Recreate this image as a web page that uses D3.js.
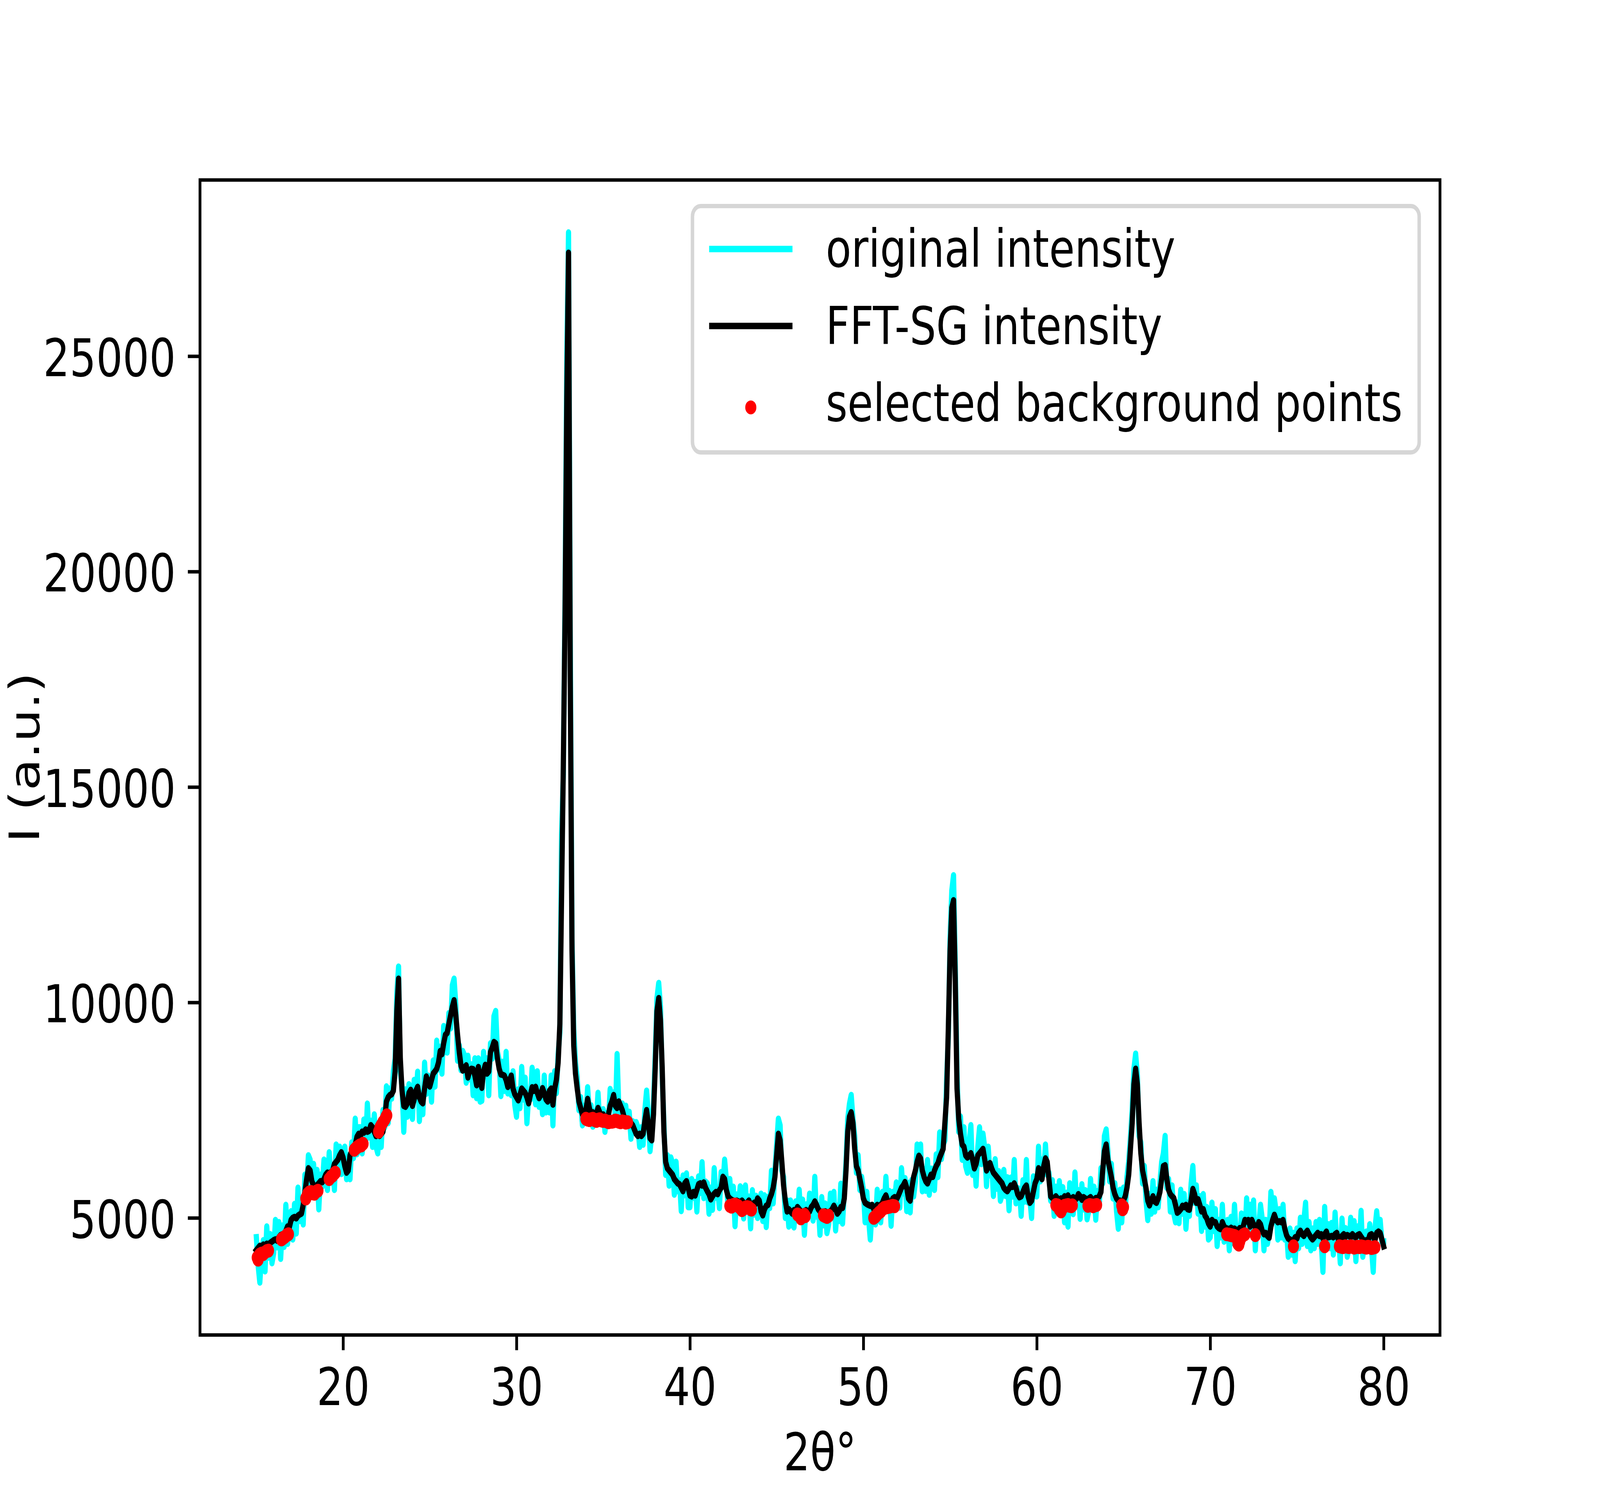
<!DOCTYPE html>
<html>
<head>
<meta charset="utf-8">
<title>XRD background selection</title>
<script src="https://d3js.org/d3.v7.min.js"></script>
<style>
  html, body { margin: 0; padding: 0; background: #ffffff; overflow: hidden; }
  svg { display: block; width: 100vw; height: 100vh; }
  svg text { font-family: "DejaVu Sans", sans-serif; fill: #000; }
</style>
</head>
<body>
<script>
// 2theta grid of the scan: 15.0 .. 80.0 deg, 0.1 deg step
const angleStart = 15.0;
const angleStep = 0.1;

// raw counts, one row per degree (N.0 .. N.9)
const originalIntensity = [
  4550,3900,3500,4130,4480,3760,4800,4080,4620,3950,   // 15
  4180,4950,4320,4900,4050,4820,4330,5300,4400,4930,   // 16
  5150,4500,5320,4640,5700,4930,5200,4850,6000,5650,   // 17
  6450,6350,5550,6250,5520,6110,5200,6000,5730,6350,   // 18
  6300,5650,6520,5860,6200,5650,6700,6050,6650,6020,   // 19
  6100,6650,5900,6450,5900,6750,6390,7300,6480,7100,   // 20
  7100,6500,7280,6700,7650,6870,7250,6650,7400,6650,   // 21
  6500,7150,6650,7500,7100,8050,7200,8000,7770,8400,   // 22
  8700,10200,10830,8400,8050,7000,7980,7350,8100,7470, // 23
  7300,8200,7800,8390,7250,7900,7410,8600,7880,8300,   // 24
  8250,7700,8650,8050,9110,8450,8970,8350,9450,9000,   // 25
  8840,9750,9400,10400,10550,9950,8650,9000,8430,8870, // 26
  8780,8140,8760,8220,8560,7850,8700,7780,8700,7700,   // 27
  7720,8850,8400,8700,7850,9050,8700,9680,9800,8850,   // 28
  8660,7830,8620,7950,8850,7890,8300,7850,8400,7620,   // 29
  7350,7980,7550,8500,7750,8250,7200,7810,7750,8480,   // 30
  8250,7640,8400,7580,7950,7410,8300,7450,7900,7450,   // 31
  8300,7150,8400,7900,8800,9300,13900,15300,19500,25000, // 32
  27870,18500,11500,9400,8600,8250,7500,7800,7150,7600,  // 33
  7320,8030,7460,7610,7120,7470,7250,7900,7210,7440,   // 34
  7520,7000,7430,7190,7990,7610,7910,7330,8800,7550,   // 35
  7330,7650,7170,7600,7130,7460,6840,7240,6990,7220,   // 36
  7100,6650,7100,6700,7500,7950,7400,6550,6950,7650,   // 37
  8800,10100,10450,9900,8300,7200,6000,6450,5750,6400, // 38
  6270,5540,6300,5620,5870,5160,5980,5530,6030,5250,   // 39
  5250,5900,5470,5830,5150,5960,5580,6290,5460,5840,   // 40
  5800,5100,5700,5190,6150,5470,5640,5230,6060,5730,   // 41
  6350,5880,5230,5900,5240,5720,4810,5540,5290,5730,   // 42
  5670,4990,5750,5170,5490,4760,5640,5080,5510,5000,   // 43
  5130,5560,4930,5520,4790,5480,5230,6090,5340,6090,   // 44
  6700,7300,7150,6100,5950,5000,5400,4800,5400,4850,   // 45
  4780,5380,4980,5650,4970,5420,4610,5310,5030,5560,   // 46
  5520,4940,5950,5030,5290,4610,5480,4830,5330,4650,   // 47
  4850,5560,5070,5600,4710,5280,4930,5790,4870,5580,   // 48
  6300,7300,7650,7850,7300,6900,6050,6450,5650,5950,   // 49
  5650,4900,5600,4980,4500,5160,5290,4850,5650,5050,   // 50
  4900,5600,5180,5950,5220,5620,4820,5600,5390,5820,   // 51
  5770,5240,6150,5570,5920,5160,5810,5130,5880,5500,   // 52
  5830,6700,6300,6700,5620,6130,5630,6340,5540,6140,   // 53
  6130,5650,6470,5950,6980,6370,6700,6800,8200,9200,   // 54
  11500,12600,12950,10900,8400,7000,7350,6350,7100,6200, // 55
  6050,6750,7150,6000,6400,5750,6650,7100,6250,6950,   // 56
  6620,5740,6650,5990,6240,5510,6360,5680,6080,5400,   // 57
  5530,6110,5510,5940,5180,5930,5500,6340,5340,5690,   // 58
  5660,5050,5870,5380,6340,5360,5440,5000,5960,5570,   // 59
  5500,6650,5850,6350,6050,6700,6000,6050,5400,5870,   // 60
  5050,5720,5180,5850,5270,5710,4900,5580,4800,5800,   // 61
  5720,5090,6050,5270,5640,4980,5780,5200,5640,4970,   // 62
  5170,5900,5280,5720,4960,5620,5260,6150,5800,6900,   // 63
  7050,6550,5850,6250,5450,5800,5150,4750,5650,4900,   // 64
  5700,5150,5950,6300,6850,7500,8450,8810,8300,6900,   // 65
  6750,5800,6200,5400,4950,5550,5100,5850,5150,5650,   // 66
  5250,5800,6300,6500,6900,5700,5900,5150,5750,5100,   // 67
  4900,5350,4880,5650,5100,5550,4750,5350,5050,5800,   // 68
  6200,5350,5750,5100,5500,4700,5550,4800,5250,4500,   // 69
  4550,5350,4700,5200,4350,4950,4550,5300,4450,4900,   // 70
  4950,4250,5020,4420,5300,4600,4800,4350,5100,4570,   // 71
  4550,5450,4700,5300,4780,5400,4250,4900,4820,5300,   // 72
  4980,4250,4950,4400,4650,5600,5200,5450,5150,4500,   // 73
  5200,4550,5300,4500,4700,4100,4750,4150,4650,4000,   // 74
  4750,4300,5000,4400,4950,5350,4350,4900,4250,4750,   // 75
  4300,4900,4400,4950,4450,3750,5250,4400,4850,4300,   // 76
  4880,4150,5120,4450,4570,3950,4980,4320,4760,4100,   // 77
  4280,5000,4470,4920,4000,4800,4370,5160,4100,4600,   // 78
  4680,4260,4850,4300,3750,4750,5150,4700,4950,4450,   // 79
  4450                                                 // 80
];

// FFT + Savitzky-Golay smoothed counts on the same grid
const fftIntensity = [
  4250,4300,4350,4330,4380,4360,4400,4380,4420,4450,   // 15
  4480,4500,4470,4550,4600,4620,4580,4700,4800,4780,   // 16
  4950,5000,5020,4990,5050,5080,5100,5300,5600,5900,   // 17
  6150,6100,5850,5750,5720,5760,5800,5850,5830,5900,   // 18
  6000,6050,6020,6060,6100,6250,6300,6350,6450,6520,   // 19
  6400,6200,6050,6100,6450,6550,6640,6700,6880,6950,   // 20
  6900,7000,6980,7050,7000,7020,7150,7100,7000,6900,   // 21
  6950,6900,6950,7000,7300,7700,7800,7850,7870,7950,   // 22
  8400,9800,10550,8700,7950,7600,7580,7650,7900,7970,  // 23
  7600,7750,7950,8040,7800,7700,7660,8000,8280,8150,   // 24
  8050,8200,8350,8400,8460,8600,8870,8800,9050,9250,   // 25
  9290,9500,9700,9900,10050,9700,9250,8850,8530,8420,  // 26
  8480,8540,8260,8420,8460,8450,8300,8080,8500,8200,   // 27
  8020,8400,8550,8350,8400,8850,8950,9080,9050,8700,   // 28
  8460,8330,8320,8300,8200,8040,8200,8300,8000,7870,   // 29
  7800,7730,7850,8000,7950,7900,7800,7660,7850,8030,   // 30
  7950,8040,7900,7780,7850,8010,7900,7750,7700,7950,   // 31
  8000,7630,8000,8200,8600,9500,12500,15500,19000,24000, // 32
  27400,17500,11200,9000,8350,8000,7700,7550,7400,7380,  // 33
  7500,7760,7550,7400,7450,7350,7400,7550,7450,7350,   // 34
  7400,7300,7250,7400,7600,7700,7850,7600,7550,7700,   // 35
  7600,7500,7350,7300,7250,7250,7200,7150,7050,6950,   // 36
  6900,6950,6900,6950,7250,7500,7200,6850,6800,7400,   // 37
  8500,9800,10100,9600,8500,7000,6300,6150,6100,6050,  // 38
  6000,5900,5850,5800,5780,5700,5620,5800,5850,5700,   // 39
  5520,5500,5600,5520,5650,5780,5800,5750,5820,5700,   // 40
  5620,5550,5430,5500,5560,5600,5550,5640,5700,5950,   // 41
  5900,5650,5500,5450,5420,5400,5350,5400,5380,5330,   // 42
  5400,5350,5300,5350,5400,5300,5280,5350,5330,5450,   // 43
  5400,5150,5060,5200,5280,5300,5450,5550,5700,5950,   // 44
  6450,6950,6800,6300,5750,5400,5150,5200,5150,5100,   // 45
  5180,5150,5250,5200,5150,5100,5150,5180,5120,5150,   // 46
  5250,5300,5380,5300,5200,5150,5120,5100,5150,5100,   // 47
  5120,5150,5200,5280,5200,5100,5150,5250,5230,5450,   // 48
  6100,7000,7350,7450,7200,6600,6200,6100,5900,5700,   // 49
  5450,5350,5320,5300,5280,5300,5200,5250,5300,5280,   // 50
  5300,5350,5450,5520,5400,5300,5350,5450,5480,5420,   // 51
  5500,5600,5700,5750,5830,5700,5450,5400,5700,5950,   // 52
  6100,6300,6440,6380,6100,5950,5850,5800,5900,6000,   // 53
  5950,6100,6200,6270,6400,6500,6600,7200,7800,9400,   // 54
  11200,12200,12370,10500,8000,7300,6950,6700,6650,6450, // 55
  6400,6450,6500,6350,6150,6250,6450,6500,6550,6600,   // 56
  6350,6100,6200,6270,6150,6050,6000,5950,5900,5850,   // 57
  5800,5700,5650,5620,5680,5750,5720,5800,5700,5550,   // 58
  5480,5500,5600,5700,5750,5500,5350,5400,5600,5800,   // 59
  5900,6150,6100,5900,6200,6380,6300,5900,5500,5460,   // 60
  5450,5500,5450,5400,5450,5400,5500,5450,5520,5420,   // 61
  5450,5480,5420,5450,5550,5500,5420,5480,5450,5400,   // 62
  5450,5480,5420,5400,5460,5450,5500,5600,6100,6550,   // 63
  6700,6350,6150,5950,5700,5550,5450,5400,5400,5380,   // 64
  5400,5500,5700,6000,6600,7200,8100,8460,8100,7200,   // 65
  6500,6100,5900,5690,5400,5290,5400,5500,5380,5350,   // 66
  5450,5600,5900,6200,6220,5900,5650,5550,5500,5460,   // 67
  5300,5120,5150,5200,5280,5250,5300,5200,5190,5400,   // 68
  5670,5550,5350,5430,5300,5150,5200,5050,4990,4870,   // 69
  4800,4950,4900,4900,4800,4760,4740,4900,4800,4760,   // 70
  4750,4700,4770,4740,4750,4720,4700,4760,4750,4800,   // 71
  4950,4920,4950,4800,4950,4850,4780,4750,4900,4850,   // 72
  4700,4620,4650,4580,4540,4800,4950,5070,4950,4900,   // 73
  4920,4900,4950,4750,4600,4520,4500,4420,4480,4550,   // 74
  4520,4650,4700,4620,4580,4650,4700,4620,4550,4500,   // 75
  4550,4600,4650,4580,4620,4520,4620,4680,4550,4560,   // 76
  4580,4550,4620,4650,4470,4420,4580,4620,4560,4600,   // 77
  4580,4550,4620,4570,4550,4600,4620,4560,4500,4450,   // 78
  4480,4460,4600,4620,4570,4480,4650,4680,4650,4500,   // 79
  4340                                                 // 80
];

// selected background points [2theta, intensity]
const backgroundPoints = [
  [15.05,4080],[15.1,4030],[15.15,4120],[15.2,4150],[15.3,4170],[15.4,4160],[15.5,4200],[15.6,4230],[15.7,4240],
  [16.45,4500],[16.55,4530],[16.65,4560],[16.75,4600],[16.85,4620],
  [17.85,5450],[17.95,5550],[18.05,5590],[18.15,5600],[18.25,5570],[18.35,5560],[18.45,5610],[18.55,5630],
  [19.2,5900],[19.3,5950],[19.4,5980],[19.5,6030],[19.55,6050],
  [20.65,6580],[20.75,6620],[20.85,6650],[20.95,6680],[21.05,6680],[21.15,6720],
  [22.05,7000],[22.13,7100],[22.2,7150],[22.3,7220],[22.4,7280],[22.47,7340],[22.52,7380],
  [34.0,7300],[34.1,7280],[34.2,7270],[34.3,7290],[34.4,7300],[34.5,7270],[34.6,7250],[34.7,7280],
  [34.8,7290],[34.9,7260],[35.0,7250],[35.1,7260],[35.2,7240],[35.3,7220],[35.4,7230],[35.5,7230],
  [35.6,7240],[35.7,7260],[35.8,7250],[35.9,7230],[36.0,7220],[36.1,7240],[36.2,7230],[36.3,7210],[36.4,7220],
  [42.3,5280],[42.4,5260],[42.5,5300],[42.6,5310],[42.7,5290],[42.8,5270],[42.9,5230],[43.0,5180],
  [43.1,5210],[43.2,5240],[43.3,5250],[43.4,5240],[43.5,5200],[43.55,5190],
  [46.2,5080],[46.3,5060],[46.4,4990],[46.5,5030],[46.6,5070],[46.65,5040],
  [47.7,5060],[47.8,5040],[47.9,5020],[48.0,5050],
  [50.6,5000],[50.7,5030],[50.8,5080],[50.9,5120],[51.0,5150],[51.1,5200],[51.2,5230],
  [51.3,5240],[51.4,5250],[51.5,5260],[51.6,5270],[51.7,5280],[51.8,5270],
  [61.1,5300],[61.2,5290],[61.3,5200],[61.4,5150],[61.5,5230],[61.6,5280],[61.7,5290],
  [61.8,5300],[61.9,5280],[62.0,5270],[62.05,5290],
  [62.95,5280],[63.05,5300],[63.15,5290],[63.25,5270],[63.35,5290],[63.45,5300],
  [64.9,5290],[64.95,5200],[65.0,5250],
  [70.95,4620],[71.1,4610],[71.2,4600],[71.3,4590],[71.4,4580],[71.5,4560],[71.6,4400],
  [71.65,4380],[71.7,4450],[71.8,4550],[71.9,4600],[72.0,4620],
  [72.6,4600],[74.8,4340],[76.6,4340],
  [77.45,4340],[77.55,4330],[77.65,4320],[77.8,4340],[77.9,4330],[78.0,4320],[78.1,4340],
  [78.2,4330],[78.3,4310],[78.4,4320],[78.5,4330],[78.6,4320],[78.7,4340],[78.8,4330],
  [78.9,4320],[79.0,4310],[79.1,4330],[79.2,4320],[79.3,4300],[79.4,4310],[79.5,4320]
];

const xTicks = [20, 30, 40, 50, 60, 70, 80];
const yTicks = [5000, 10000, 15000, 20000, 25000];
const legendLabels = ["original intensity", "FFT-SG intensity", "selected background points"];
const xLabel = "2θ°";
const yLabel = "I (a.u.)";

// ---- layout (matplotlib defaults, 6.4x4.8 in at 800 dpi) ----
const W = 5120, H = 3840;
const pt = 800 / 72;
const fs = 12 * pt;
const margin = { left: 0.125 * W, right: 0.1 * W, top: 0.12 * H, bottom: 0.11 * H };
const colOriginal = "#00ffff", colFft = "#000000", colBg = "#ff0000";
const lineW = 1.5 * pt, axisW = 0.8 * pt, tickLen = 3.5 * pt;
const dotR = 1.6 * pt;

const twoTheta = originalIntensity.map((d, i) => +(angleStart + i * angleStep).toFixed(2));
const n = Math.min(twoTheta.length, originalIntensity.length, fftIntensity.length);

const xLo = d3.min(twoTheta), xHi = d3.max(twoTheta);
const allI = originalIntensity.concat(fftIntensity, backgroundPoints.map(d => d[1]));
const yLo = d3.min(allI), yHi = d3.max(allI);

const x = d3.scaleLinear()
  .domain([xLo - 0.05 * (xHi - xLo), xHi + 0.05 * (xHi - xLo)])
  .range([margin.left, W - margin.right]);
const y = d3.scaleLinear()
  .domain([yLo - 0.05 * (yHi - yLo), yHi + 0.05 * (yHi - yLo)])
  .range([H - margin.bottom, margin.top]);

// laid out in a 5120x3840 user space, stretched over the whole window
const svg = d3.select("body").append("svg")
  .attr("viewBox", `0 0 ${W} ${H}`)
  .attr("preserveAspectRatio", "none");

svg.append("rect").attr("width", W).attr("height", H).attr("fill", "#fff");

svg.append("clipPath").attr("id", "plotArea")
  .append("rect")
  .attr("x", margin.left).attr("y", margin.top)
  .attr("width", W - margin.left - margin.right)
  .attr("height", H - margin.top - margin.bottom);

const plot = svg.append("g").attr("clip-path", "url(#plotArea)");

const idx = d3.range(n);
const lineOf = series => d3.line()
  .x(i => x(twoTheta[i]))
  .y(i => y(series[i]));

plot.append("path")
  .attr("d", lineOf(originalIntensity)(idx))
  .attr("fill", "none")
  .attr("stroke", colOriginal)
  .attr("stroke-width", lineW)
  .attr("stroke-linejoin", "round")
  .attr("stroke-linecap", "square");

plot.append("path")
  .attr("d", lineOf(fftIntensity)(idx))
  .attr("fill", "none")
  .attr("stroke", colFft)
  .attr("stroke-width", lineW)
  .attr("stroke-linejoin", "round")
  .attr("stroke-linecap", "square");

plot.selectAll("circle.bg")
  .data(backgroundPoints)
  .join("circle")
  .attr("class", "bg")
  .attr("cx", d => x(d[0]))
  .attr("cy", d => y(d[1]))
  .attr("r", dotR)
  .attr("fill", colBg);

// ---- axes ----
const gx = svg.append("g")
  .attr("transform", `translate(0,${H - margin.bottom})`)
  .call(d3.axisBottom(x).tickValues(xTicks).tickFormat(d3.format("d"))
    .tickSize(tickLen).tickPadding(tickLen).tickSizeOuter(0));
gx.attr("font-size", fs).attr("font-family", "DejaVu Sans");
gx.select(".domain").remove();
gx.selectAll(".tick line").attr("stroke", "#000").attr("stroke-width", axisW);
gx.selectAll(".tick text").attr("fill", "#000").attr("dy", "0.76em");

const gy = svg.append("g")
  .attr("transform", `translate(${margin.left},0)`)
  .call(d3.axisLeft(y).tickValues(yTicks).tickFormat(d3.format("d"))
    .tickSize(tickLen).tickPadding(tickLen).tickSizeOuter(0));
gy.attr("font-size", fs).attr("font-family", "DejaVu Sans");
gy.select(".domain").remove();
gy.selectAll(".tick line").attr("stroke", "#000").attr("stroke-width", axisW);
gy.selectAll(".tick text").attr("fill", "#000").attr("dy", "0.38em");

svg.append("rect")
  .attr("x", margin.left).attr("y", margin.top)
  .attr("width", W - margin.left - margin.right)
  .attr("height", H - margin.top - margin.bottom)
  .attr("fill", "none")
  .attr("stroke", "#000")
  .attr("stroke-width", axisW)
  .attr("stroke-linejoin", "miter");

svg.append("text")
  .attr("x", (margin.left + W - margin.right) / 2)
  .attr("y", H - margin.bottom + 2.6 * fs)
  .attr("text-anchor", "middle")
  .attr("font-size", fs)
  .text(xLabel);

// y label sits against the left edge, kept just inside the page
svg.append("text")
  .attr("transform", `translate(${0.94 * fs},${(margin.top + H - margin.bottom) / 2}) rotate(-90)`)
  .attr("text-anchor", "middle")
  .attr("font-size", fs)
  .text(yLabel);

// ---- legend ----
const borderAxesPad = 0.5 * fs, borderPad = 0.4 * fs;
const handleLen = 2 * fs, handlePad = 0.8 * fs, rowStep = 1.478 * fs;
const legend = svg.append("g");
const legendBox = legend.append("rect");
const labels = legend.selectAll("text")
  .data(legendLabels)
  .join("text")
  .attr("font-size", fs)
  .text(d => d);
const textW = d3.max(labels.nodes(), nd => nd.getComputedTextLength());
const legW = 2 * borderPad + handleLen + handlePad + textW;
const legH = 4.73 * fs;
const legRight = W - margin.right - borderAxesPad;
const legTop = margin.top + borderAxesPad;
const legLeft = legRight - legW;

legendBox
  .attr("x", legLeft).attr("y", legTop)
  .attr("width", legW).attr("height", legH)
  .attr("rx", 0.2 * fs).attr("ry", 0.2 * fs)
  .attr("fill", "#fff").attr("fill-opacity", 0.8)
  .attr("stroke", "#d6d6d6").attr("stroke-width", 1 * pt);

const baseY = i => legTop + 1.17 * fs + i * rowStep;
labels
  .attr("x", legLeft + borderPad + handleLen + handlePad)
  .attr("y", (d, i) => baseY(i));

[colOriginal, colFft].forEach((c, i) => {
  legend.append("line")
    .attr("x1", legLeft + borderPad).attr("x2", legLeft + borderPad + handleLen)
    .attr("y1", baseY(i) - 0.345 * fs).attr("y2", baseY(i) - 0.345 * fs)
    .attr("stroke", c).attr("stroke-width", lineW);
});
legend.append("circle")
  .attr("cx", legLeft + borderPad + handleLen / 2)
  .attr("cy", baseY(2) - 0.26 * fs)
  .attr("r", dotR)
  .attr("fill", colBg);
</script>
</body>
</html>
